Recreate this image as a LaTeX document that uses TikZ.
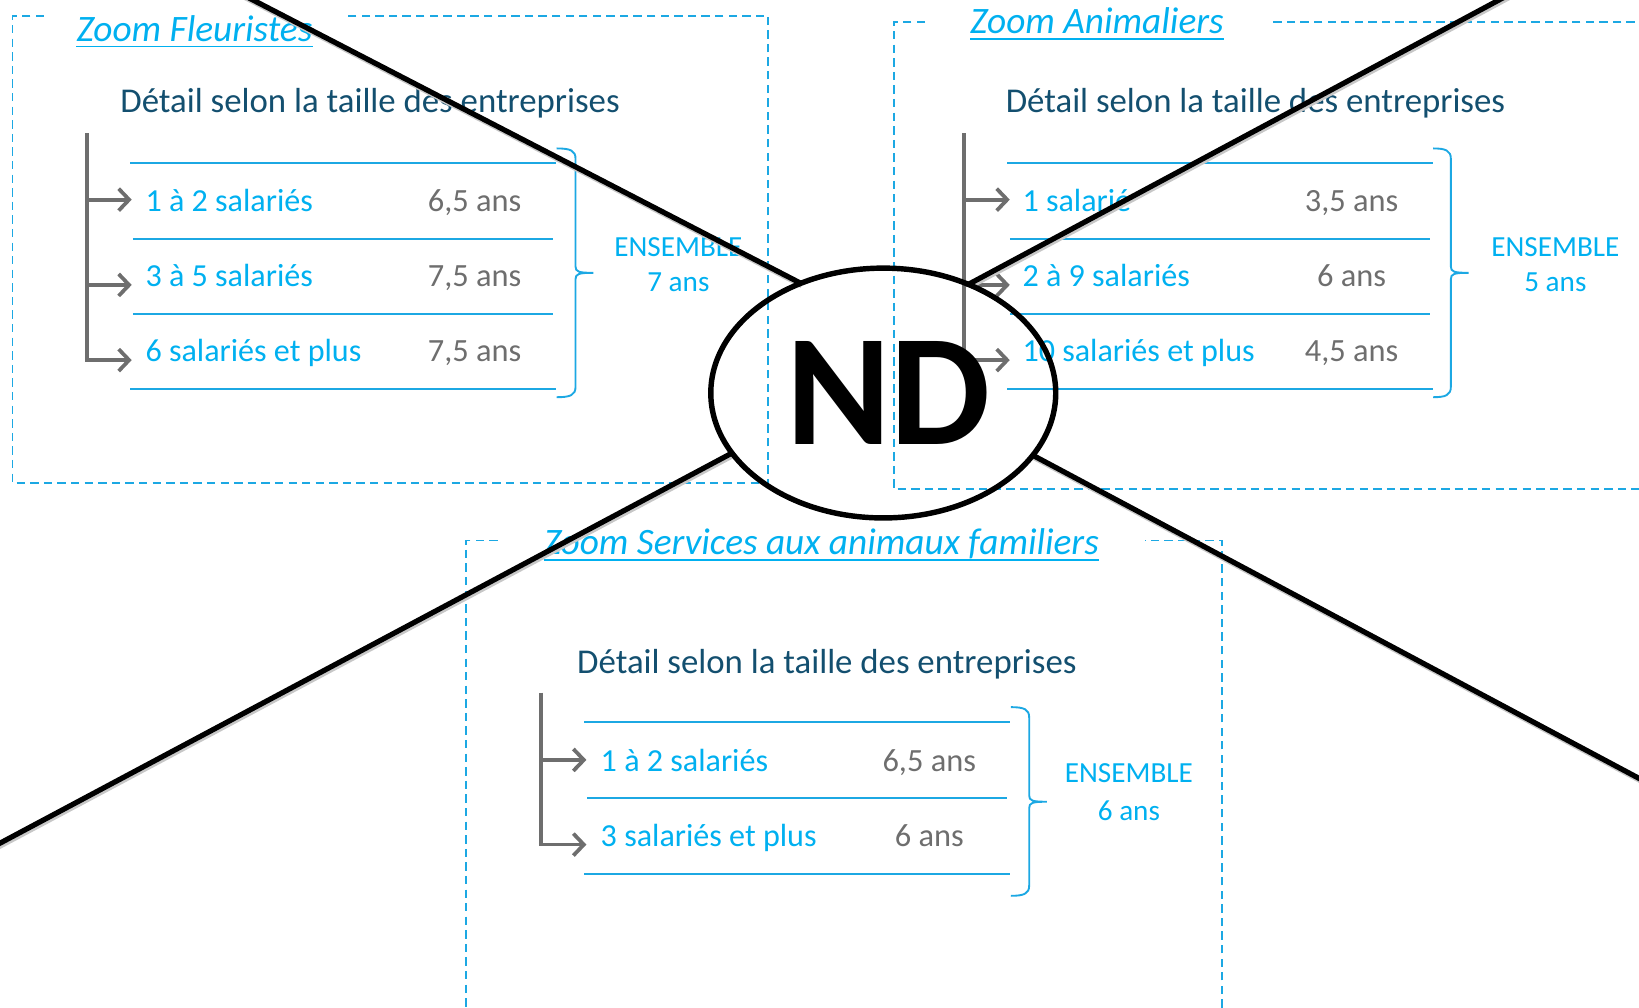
\documentclass[tikz,border=0pt]{standalone}
\usepackage{fontspec}
\setmainfont{Carlito}
\usetikzlibrary{arrows.meta,shapes.geometric,intersections}
\definecolor{tblue}{HTML}{00B0F0}
\definecolor{hteal}{HTML}{134F6F}
\definecolor{vgray}{HTML}{6E6E6E}
\definecolor{dblue}{HTML}{1CA8E3}
\newcommand{\fsz}[1]{\fontsize{#1}{#1}\selectfont}
\newcommand{\mybrace}[5]{% x, ytop, ybottom, ymid, hook length
  \draw[brc] (#1-#5,#2) .. controls (#1-5,#2) and (#1,#2+2) .. (#1,#2+10)
    -- (#1,#4-6) .. controls (#1,#4-1) and (#1+3,#4) .. (#1+17,#4)
    .. controls (#1+3,#4) and (#1,#4+1) .. (#1,#4+6)
    -- (#1,#3-10) .. controls (#1,#3-2) and (#1-5,#3) .. (#1-#5,#3);}
\begin{document}
\begin{tikzpicture}[x=1pt,y=-1pt,
  dbox/.style={draw=dblue,line width=1.7pt,dash pattern=on 8pt off 5pt},
  ttl/.style={text=tblue,font=\fsz{35.7}\itshape,inner sep=0pt,anchor=base west},
  uline/.style={draw=tblue,line width=1.8pt},
  hdr/.style={text=hteal,font=\fsz{33.3},inner sep=0pt,anchor=base west},
  lbl/.style={text=tblue,font=\fsz{30.7},inner sep=0pt,anchor=base west},
  val/.style={text=vgray,font=\fsz{31},inner sep=0pt,anchor=base},
  ens/.style={text=tblue,font=\fsz{27.9},inner sep=0pt,anchor=base},
  sepl/.style={draw=dblue,line width=2pt},
  tree/.style={draw=vgray,line width=3.6pt},
  garr/.style={draw=vgray,line width=3.6pt,-{Straight Barb[length=10pt,width=21pt]}},
  brc/.style={draw=dblue,line width=1.8pt},
  xline/.style={draw=black,line width=5pt,
    preaction={draw=black!22,line width=6pt,transform canvas={xshift=1.2pt,yshift=-1.6pt}}},
]
\useasboundingbox (0,0) rectangle (1568,964);
\clip (0,0) rectangle (1568,964);

% ---------- Fleuristes ----------
\draw[dbox] (42,15) -| (12,462) -| (735,15) -- (330,15);
\node[ttl] (ft) at (73,40) {Zoom Fleuristes};
\draw[uline] ([yshift=-4.5pt]ft.base west) -- ([yshift=-4.5pt]ft.base east);
\node[hdr] (fh) at (115,108) {Détail selon la taille des entreprises};
\draw[sepl] (124.4,155.6) -- (532,155.6);
\draw[sepl] (127,228.6) -- (529.4,228.6);
\draw[sepl] (127,300.4) -- (529.4,300.4);
\draw[sepl] (124.4,372.5) -- (532,372.5);
\coordinate (fr1) at (126,191);
\coordinate (fr2) at (126,272.6);
\coordinate (fr3) at (126,344.5);
\draw[tree] (83,127.6) -- (83,344.5);
\draw[garr] (83,191) -- (fr1);
\draw[garr] (83,272.6) -- (fr2);
\draw[garr] (81.2,344.5) -- (fr3);
\node[lbl] (fl1) at (139,202.5) {1 à 2 salariés};
\node[lbl] (fl2) at (139,274) {3 à 5 salariés};
\node[lbl] (fl3) at (139,346) {6 salariés et plus};
\node[val] (fv1) at (454,202.5) {6,5 ans};
\node[val] (fv2) at (454,274) {7,5 ans};
\node[val] (fv3) at (454,346) {7,5 ans};
\mybrace{550.6}{142}{380}{261}{18}
\node[ens] (fe1) at (649,245.6) {ENSEMBLE};
\node[ens] (fe2) at (649,279) {7 ans};

% ---------- Animaliers ----------
\draw[dbox] (885,20.7) -| (855,468) -- (1590,468);
\draw[dbox] (1590,20.7) -- (1217,20.7);
\node[ttl] (at) at (928,32) {Zoom Animaliers};
\draw[uline] ([yshift=-5pt]at.base west) -- ([yshift=-5pt]at.base east);
\node[hdr] (ah) at (962,108) {Détail selon la taille des entreprises};
\draw[sepl] (963.4,155.6) -- (1370.7,155.6);
\draw[sepl] (966,228.6) -- (1368,228.6);
\draw[sepl] (966,300.4) -- (1368,300.4);
\draw[sepl] (963.4,372.5) -- (1370.7,372.5);
\coordinate (ar1) at (966,191);
\coordinate (ar2) at (966,272.6);
\coordinate (ar3) at (966,344.5);
\draw[tree] (922.5,127.6) -- (922.5,344.5);
\draw[garr] (922.5,191) -- (ar1);
\draw[garr] (922.5,272.6) -- (ar2);
\draw[garr] (920.7,344.5) -- (ar3);
\node[lbl] (al1) at (978,202.5) {1 salarié};
\node[lbl] (al2) at (978,274) {2 à 9 salariés};
\node[lbl] (al3) at (978,346) {10 salariés et plus};
\node[val] (av1) at (1293,202.5) {3,5 ans};
\node[val] (av2) at (1293,274) {6 ans};
\node[val] (av3) at (1293,346) {4,5 ans};
\mybrace{1388}{142}{380}{261}{17}
\node[ens] (ae1) at (1488,245.6) {ENSEMBLE};
\node[ens] (ae2) at (1488,279) {5 ans};

% ---------- Services ----------
\draw[dbox] (476,517) -| (446,990);
\draw[dbox] (1169,990) |- (1095,517);
\node[ttl] (st) at (520,530) {Zoom Services aux animaux familiers};
\draw[uline] ([yshift=-6pt]st.base west) -- ([yshift=-6pt]st.base east);
\node[hdr] (sh) at (552,644) {Détail selon la taille des entreprises};
\draw[sepl] (558.7,691) -- (966,691);
\draw[sepl] (562,763.7) -- (963,763.7);
\draw[sepl] (558.7,836) -- (966,836);
\coordinate (sr1) at (561,727);
\coordinate (sr2) at (561,808);
\draw[tree] (517.4,662.7) -- (517.4,808);
\draw[garr] (517.4,727) -- (sr1);
\draw[garr] (515.6,808) -- (sr2);
\node[lbl] (sl1) at (574.5,738) {1 à 2 salariés};
\node[lbl] (sl2) at (574.5,810) {3 salariés et plus};
\node[val] (sv1) at (889,738) {6,5 ans};
\node[val] (sv2) at (889,810) {6 ans};
\mybrace{984.6}{676.5}{857}{767}{17.6}
\node[ens] (se1) at (1080,749) {ENSEMBLE};
\node[ens] (se2) at (1080,784.5) {6 ans};

% ---------- ND cross ----------
\coordinate (ca) at (224.6,-9);
\coordinate (ia) at (845,311.8);
\coordinate (cb) at (1451,-9.1);
\coordinate (ib) at (845,315.7);
\coordinate (cc) at (-17,815.7);
\coordinate (ic) at (845,356.3);
\coordinate (cd) at (1585,753.7);
\coordinate (id) at (845,359.3);
\path[name path=ell] (845,376) ellipse (165 and 119.5);
\path[name path=la] (ca) -- (ia);
\path[name path=lb] (cb) -- (ib);
\path[name path=lc] (cc) -- (ic);
\path[name path=ld] (cd) -- (id);
\path[name intersections={of=la and ell, by=pa}];
\path[name intersections={of=lb and ell, by=pb}];
\path[name intersections={of=lc and ell, by=pc}];
\path[name intersections={of=ld and ell, by=pd}];
\draw[xline] (ca) -- (pa);
\draw[xline] (cb) -- (pb);
\draw[xline] (cc) -- (pc);
\draw[xline] (cd) -- (pd);
\node[draw=black, line width=5.2pt, ellipse, minimum width=330pt,
      minimum height=239pt, inner sep=0pt] (nd) at (845,376) {};
\node[font=\fsz{152}\bfseries, inner sep=0pt] (ndt) at (850,376) {ND};
\end{tikzpicture}
\end{document}
